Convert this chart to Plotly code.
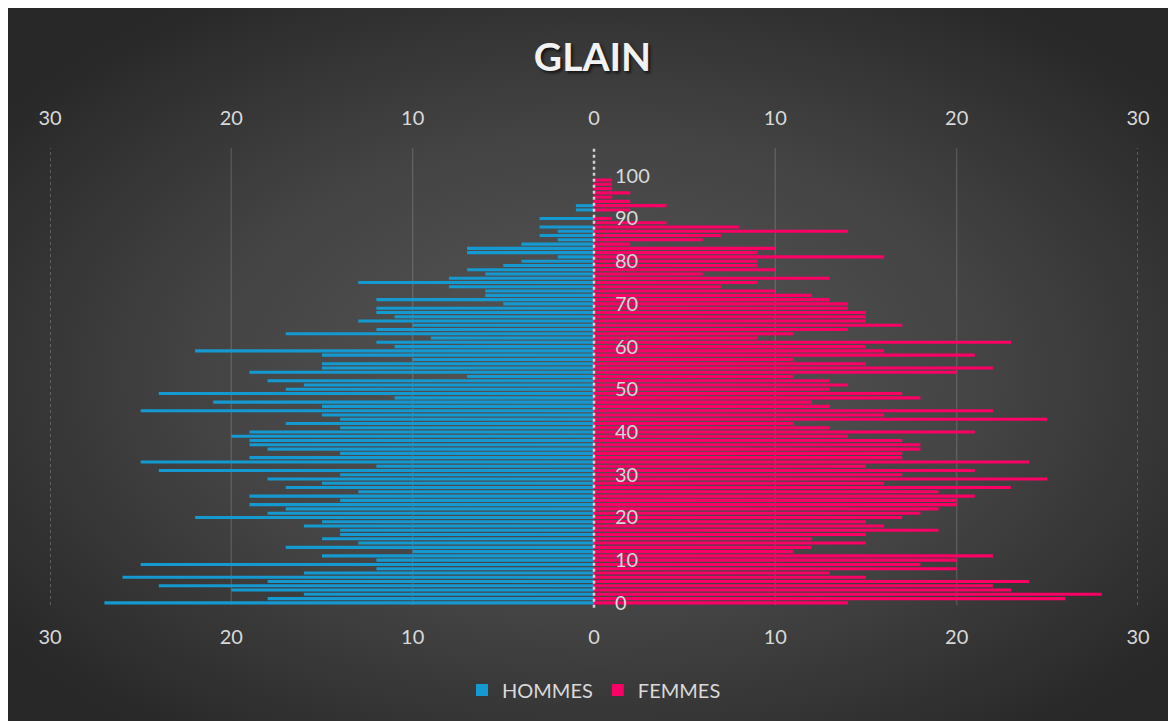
import base64
import plotly.graph_objects as go

# ---------------- data ----------------
ages = list(range(0, 101))
hommes = [27, 18, 16, 20, 24, 18, 26, 16, 12, 25,
          12, 15, 10, 17, 13, 15, 14, 14, 16, 15,
          22, 18, 17, 19, 14, 19, 13, 17, 15, 18,
          14, 24, 12, 25, 19, 14, 18, 19, 19, 20,
          19, 14, 17, 14, 15, 25, 15, 21, 11, 24,
          17, 16, 18, 7, 19, 15, 15, 10, 15, 22,
          11, 12, 9, 17, 12, 10, 13, 11, 12, 12,
          5, 12, 6, 6, 8, 13, 8, 6, 7, 5,
          4, 2, 7, 7, 4, 2, 3, 2, 3, 0,
          3, 0, 1, 1, 0, 0, 0, 0, 0, 0,
          0]
femmes = [14, 26, 28, 23, 22, 24, 15, 13, 20, 18,
          20, 22, 11, 12, 15, 12, 15, 19, 16, 15,
          17, 18, 19, 20, 20, 21, 19, 23, 16, 25,
          17, 21, 15, 24, 17, 17, 18, 18, 17, 14,
          21, 13, 11, 25, 16, 22, 13, 12, 18, 17,
          13, 14, 13, 11, 20, 22, 15, 11, 21, 16,
          15, 23, 9, 11, 14, 17, 15, 15, 15, 14,
          14, 13, 12, 10, 7, 9, 13, 6, 10, 9,
          9, 16, 9, 10, 2, 6, 7, 14, 8, 4,
          1, 0, 2, 4, 2, 1, 2, 1, 1, 1,
          0]
x_tickvals = [-30, -20, -10, 0, 10, 20, 30]
x_ticktext = ["30", "20", "10", "0", "10", "20", "30"]
age_ticks = list(range(0, 101, 10))
series_names = ["HOMMES", "FEMMES"]
title_text = "GLAIN"

# ---------------- style ----------------
W, H = 1176, 721
L, R, T, B = 42, 46, 140, 124
FONT = "Lato"
TXT = "#d9d9d9"
BLUE = "#1499d1"
PINK = "#fb0065"

fig = go.Figure()
fig.add_trace(go.Bar(y=ages, x=[-v for v in hommes], orientation="h",
                     name=series_names[0], marker=dict(color=BLUE, line=dict(width=0)),
                     width=0.72, customdata=hommes,
                     hovertemplate="%{y} : %{customdata}<extra></extra>"))
fig.add_trace(go.Bar(y=ages, x=femmes, orientation="h",
                     name=series_names[1], marker=dict(color=PINK, line=dict(width=0)),
                     width=0.72,
                     hovertemplate="%{y} : %{x}<extra></extra>"))

# background radial gradient (dark chart area)
svg = ("<svg xmlns='http://www.w3.org/2000/svg' width='1176' height='721' "
       "viewBox='0 0 1176 721' preserveAspectRatio='none'>"
       "<defs><radialGradient id='g' cx='50%' cy='51%' r='62%'>"
       "<stop offset='0' stop-color='#575757'/>"
       "<stop offset='0.55' stop-color='#434343'/>"
       "<stop offset='1' stop-color='#282828'/>"
       "</radialGradient></defs>"
       "<rect width='1176' height='721' fill='url(#g)'/></svg>")
src = "data:image/svg+xml;base64," + base64.b64encode(svg.encode()).decode()
pw, ph = W - L - R, H - T - B
fig.add_layout_image(dict(source=src, xref="paper", yref="paper",
                          x=-L / pw, y=(H - B) / ph,
                          sizex=W / pw, sizey=H / ph,
                          sizing="stretch", xanchor="left", yanchor="top",
                          layer="below"))

# grid lines
for gv in [-20, -10, 10, 20]:
    fig.add_shape(type="line", xref="x", yref="paper", x0=gv, x1=gv, y0=0, y1=1,
                  line=dict(color="rgba(255,255,255,0.14)", width=1.5), layer="below")
for gv in [-30, 30]:
    fig.add_shape(type="line", xref="x", yref="paper", x0=gv, x1=gv, y0=0, y1=1,
                  line=dict(color="rgba(220,220,220,0.55)", width=1, dash="dot"), layer="below")
fig.add_shape(type="line", xref="x", yref="paper", x0=0, x1=0, y0=-0.006, y1=1,
              line=dict(color="rgba(225,225,225,0.9)", width=2.5, dash="dot"), layer="above")

axis_font = dict(family=FONT, size=20, color=TXT)
fig.update_layout(
    width=W, height=H,
    margin=dict(l=L, r=R, t=T, b=B, pad=0),
    paper_bgcolor="#3c3c3c", plot_bgcolor="rgba(0,0,0,0)",
    barmode="overlay",
    title=dict(text="<b>" + title_text + "</b>", x=0.497, xanchor="center",
               y=1 - 49 / H, yanchor="middle", yref="container",
               font=dict(family=FONT, size=39, color="#f2f2f2",
                         shadow="2px 2px 3px rgba(0,0,0,0.7)")),
    xaxis=dict(range=[-30, 30], tickvals=x_tickvals, ticktext=x_ticktext,
               showgrid=False, zeroline=False, showline=False,
               ticks="outside", ticklen=14, tickcolor="rgba(0,0,0,0)",
               tickfont=axis_font, fixedrange=True),
    xaxis2=dict(range=[-30, 30], tickvals=x_tickvals, ticktext=x_ticktext,
                overlaying="x", side="top", showgrid=False, zeroline=False,
                showline=False, ticks="outside", ticklen=14,
                tickcolor="rgba(0,0,0,0)", tickfont=axis_font, fixedrange=True),
    yaxis=dict(range=[-0.5, 106.5], tickvals=age_ticks,
               anchor="free", position=0.5, side="right",
               showgrid=False, zeroline=False, showline=False,
               ticks="outside", ticklen=16, tickcolor="rgba(0,0,0,0)",
               tickfont=axis_font, fixedrange=True),
    legend=dict(orientation="h", x=0.5, xanchor="center",
                y=(H - B - 682) / ph, yanchor="middle",
                font=dict(family=FONT, size=20, color=TXT),
                bgcolor="rgba(0,0,0,0)", itemwidth=30),
    showlegend=True,
)
# dummy trace to activate top axis
fig.add_trace(go.Scatter(x=[None], y=[None], xaxis="x2", showlegend=False, hoverinfo="skip"))

fig.write_html("out.html")
